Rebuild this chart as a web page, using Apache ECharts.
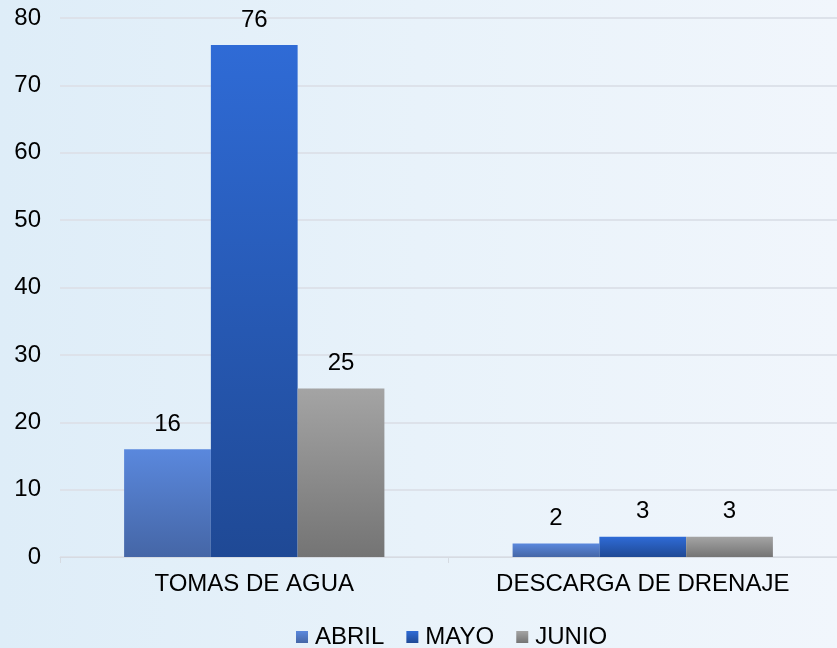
<!DOCTYPE html>
<html>
<head>
<meta charset="utf-8">
<script src="https://cdn.jsdelivr.net/npm/echarts@6/dist/echarts.min.js"></script>
<style>
  html, body { margin: 0; padding: 0; }
  #chart {
    width: 837px;
    height: 648px;
    background: linear-gradient(90deg, #deedf8 0%, #e8f2fa 50%, #f1f6fc 100%);
  }
</style>
</head>
<body>
<div id="chart"></div>
<script>
// categorias y valores
const categories = ["TOMAS DE AGUA", "DESCARGA DE DRENAJE"];
const abril = [16, 2];
const mayo = [76, 3];
const junio = [25, 3];
const seriesNames = ["ABRIL", "MAYO", "JUNIO"];

function grad(top, bottom) {
  return new echarts.graphic.LinearGradient(0, 0, 0, 1, [
    { offset: 0, color: top },
    { offset: 1, color: bottom }
  ]);
}

const labelStyle = {
  show: true,
  position: "top",
  distance: 13,
  color: "#000",
  fontSize: 24,
  fontFamily: "Liberation Sans"
};

const myChart = echarts.init(document.getElementById("chart"));
const option = {
  backgroundColor: "transparent",
  textStyle: { fontFamily: "Liberation Sans" },
  legend: {
    bottom: -6,
    left: 291,
    icon: "rect",
    itemWidth: 12,
    itemHeight: 12,
    itemGap: 22,
    textStyle: { color: "#000", fontSize: 24, padding: [0, 0, 0, 2] },
    data: seriesNames
  },
  grid: { left: 60, right: 0, top: 18, bottom: 91, containLabel: false },
  xAxis: {
    type: "category",
    data: categories,
    axisLine: { lineStyle: { color: "#d6dbe2", width: 1 } },
    axisTick: { show: true, alignWithLabel: false, length: 6, lineStyle: { color: "#d6dbe2" } },
    axisLabel: { color: "#000", fontSize: 24, margin: 15 }
  },
  yAxis: {
    type: "value",
    min: 0,
    max: 80,
    interval: 10,
    axisLine: { show: false },
    axisTick: { show: false },
    axisLabel: { color: "#000", fontSize: 24, margin: 19 },
    splitLine: { lineStyle: { color: "#dde2ea", width: 2 } }
  },
  series: [
    {
      name: "ABRIL",
      type: "bar",
      data: abril,
      barGap: "0%",
      barCategoryGap: "33%",
      itemStyle: { color: grad("#5a88dd", "#4566a6") },
      label: labelStyle
    },
    {
      name: "MAYO",
      type: "bar",
      data: mayo,
      itemStyle: { color: grad("#2f6bd6", "#1f4995") },
      label: labelStyle
    },
    {
      name: "JUNIO",
      type: "bar",
      data: junio,
      itemStyle: { color: grad("#a4a4a4", "#747474") },
      label: labelStyle
    }
  ]
};
myChart.setOption(option);
</script>
</body>
</html>
